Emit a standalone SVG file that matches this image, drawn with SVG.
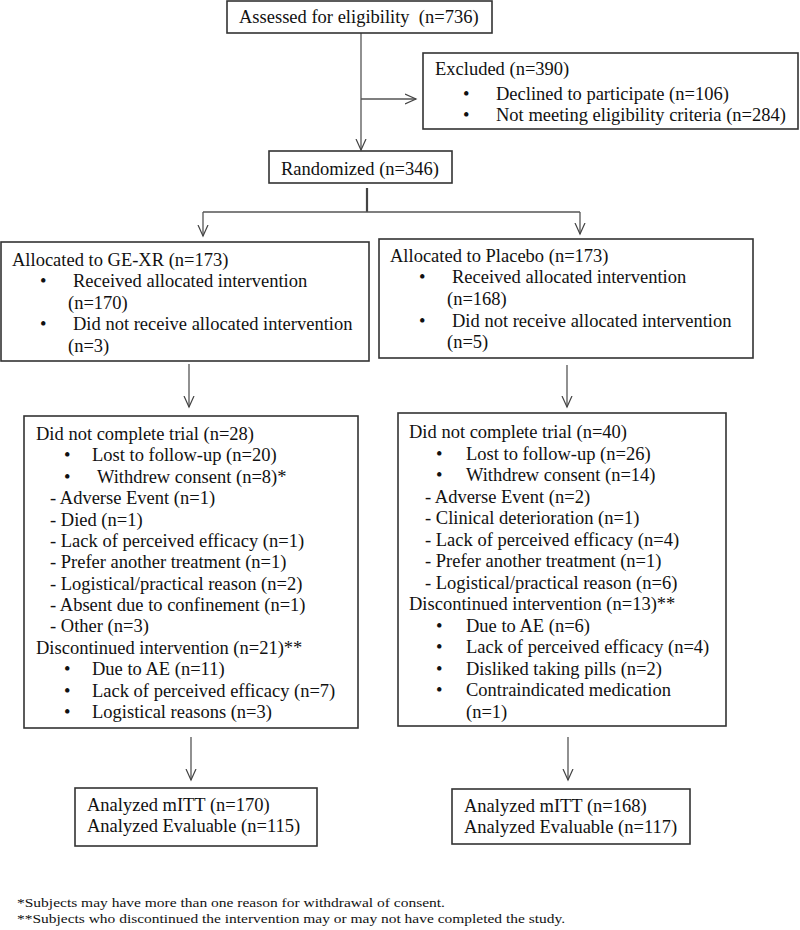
<svg xmlns="http://www.w3.org/2000/svg" width="800" height="930" viewBox="0 0 800 930">
<defs>
<marker id="ah" markerUnits="userSpaceOnUse" markerWidth="14" markerHeight="14" refX="11" refY="6" orient="auto">
<path d="M0,1 L11,6 L0,11" fill="none" stroke="#444" stroke-width="1.2"/>
</marker>
<style>
text{font-family:"Liberation Serif","Times New Roman",serif;font-size:18.5px;fill:#111}
.box{fill:#fff;stroke:#333;stroke-width:1.6}
.c{fill:none;stroke:#555;stroke-width:1.3}
.fn{font-size:13.5px}
</style>
</defs>
<rect width="800" height="930" fill="#fff"/>
<g id="connectors">
<path class="c" d="M361,33 V150" marker-end="url(#ah)"/>
<path class="c" d="M361,99 H416" marker-end="url(#ah)"/>
<path d="M367,188 V212" fill="none" stroke="#444" stroke-width="2.2"/>
<path class="c" d="M203,212 H580"/>
<path class="c" d="M203,212 V236" marker-end="url(#ah)"/>
<path class="c" d="M580,212 V234" marker-end="url(#ah)"/>
<path class="c" d="M189,364 V407" marker-end="url(#ah)"/>
<path class="c" d="M567,365 V407" marker-end="url(#ah)"/>
<path class="c" d="M191,737 V780" marker-end="url(#ah)"/>
<path class="c" d="M568,737 V780" marker-end="url(#ah)"/>
</g>
<g id="assessed">
<rect class="box" x="227" y="1" width="265" height="32"/>
<text x="239" y="23" xml:space="preserve">Assessed for eligibility  (n=736)</text>
</g>
<g id="excluded">
<rect class="box" x="423" y="53" width="375" height="76"/>
<text x="435" y="75">Excluded (n=390)</text>
<text x="463" y="100">•</text><text x="496" y="100">Declined to participate (n=106)</text>
<text x="463" y="121">•</text><text x="496" y="121">Not meeting eligibility criteria (n=284)</text>
</g>
<g id="randomized">
<rect class="box" x="269" y="151" width="183" height="32"/>
<text x="281" y="175">Randomized (n=346)</text>
</g>
<g id="alloc-gexr">
<rect class="box" x="1" y="242" width="368" height="119"/>
<text x="12" y="266">Allocated to GE-XR (n=173)</text>
<text x="40" y="287">•</text><text x="73" y="287">Received allocated intervention</text>
<text x="68" y="309">(n=170)</text>
<text x="40" y="330">•</text><text x="73" y="330">Did not receive allocated intervention</text>
<text x="68" y="352">(n=3)</text>
</g>
<g id="alloc-placebo">
<rect class="box" x="379" y="239" width="374" height="119"/>
<text x="390" y="262">Allocated to Placebo (n=173)</text>
<text x="419" y="283">•</text><text x="452" y="283">Received allocated intervention</text>
<text x="447" y="305">(n=168)</text>
<text x="419" y="327">•</text><text x="452" y="327">Did not receive allocated intervention</text>
<text x="447" y="348">(n=5)</text>
</g>
<g id="followup-gexr">
<rect class="box" x="24" y="416" width="334" height="312"/>
<text x="36" y="440">Did not complete trial (n=28)</text>
<text x="64" y="461.4">•</text><text x="92" y="461.4">Lost to follow-up (n=20)</text>
<text x="64" y="482.8">•</text><text x="97" y="482.8">Withdrew consent (n=8)*</text>
<text x="50" y="504.1">- Adverse Event (n=1)</text>
<text x="50" y="525.5">- Died (n=1)</text>
<text x="50" y="546.9">- Lack of perceived efficacy (n=1)</text>
<text x="50" y="568.3">- Prefer another treatment (n=1)</text>
<text x="50" y="589.7">- Logistical/practical reason (n=2)</text>
<text x="50" y="611">- Absent due to confinement (n=1)</text>
<text x="50" y="632.4">- Other (n=3)</text>
<text x="36" y="653.8">Discontinued intervention (n=21)**</text>
<text x="64" y="675.2">•</text><text x="92" y="675.2">Due to AE (n=11)</text>
<text x="64" y="696.6">•</text><text x="92" y="696.6">Lack of perceived efficacy (n=7)</text>
<text x="64" y="718">•</text><text x="92" y="718">Logistical reasons (n=3)</text>
</g>
<g id="followup-placebo">
<rect class="box" x="398" y="413" width="328" height="313"/>
<text x="409" y="438">Did not complete trial (n=40)</text>
<text x="436" y="459.5">•</text><text x="466" y="459.5">Lost to follow-up (n=26)</text>
<text x="436" y="481">•</text><text x="466" y="481">Withdrew consent (n=14)</text>
<text x="425" y="502.5">- Adverse Event (n=2)</text>
<text x="425" y="524">- Clinical deterioration (n=1)</text>
<text x="425" y="545.5">- Lack of perceived efficacy (n=4)</text>
<text x="425" y="567">- Prefer another treatment (n=1)</text>
<text x="425" y="588.5">- Logistical/practical reason (n=6)</text>
<text x="409" y="610">Discontinued intervention (n=13)**</text>
<text x="436" y="631.5">•</text><text x="466" y="631.5">Due to AE (n=6)</text>
<text x="436" y="653">•</text><text x="466" y="653">Lack of perceived efficacy (n=4)</text>
<text x="436" y="674.5">•</text><text x="466" y="674.5">Disliked taking pills (n=2)</text>
<text x="436" y="696">•</text><text x="466" y="696">Contraindicated medication</text>
<text x="466" y="717.5">(n=1)</text>
</g>
<g id="analyzed-gexr">
<rect class="box" x="75" y="788" width="242" height="58"/>
<text x="87" y="811">Analyzed mITT (n=170)</text>
<text x="87" y="832">Analyzed Evaluable (n=115)</text>
</g>
<g id="analyzed-placebo">
<rect class="box" x="452" y="789" width="238" height="55"/>
<text x="464" y="812">Analyzed mITT (n=168)</text>
<text x="464" y="833">Analyzed Evaluable (n=117)</text>
</g>
<g id="footnotes">
<text class="fn" x="17" y="907" textLength="428" lengthAdjust="spacingAndGlyphs">*Subjects may have more than one reason for withdrawal of consent.</text>
<text class="fn" x="17" y="923" textLength="548" lengthAdjust="spacingAndGlyphs">**Subjects who discontinued the intervention may or may not have completed the study.</text>
</g>
</svg>
